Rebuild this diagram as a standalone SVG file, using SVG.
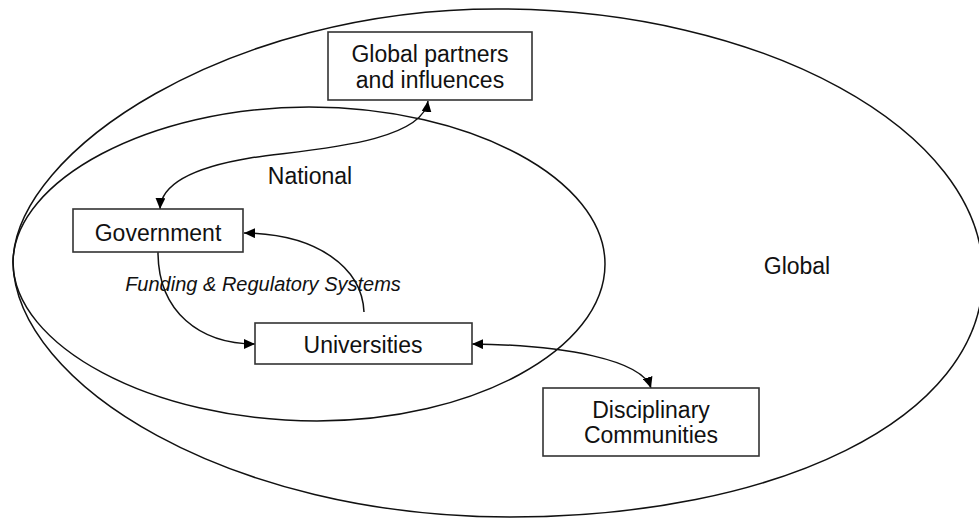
<svg xmlns="http://www.w3.org/2000/svg" width="979" height="520" viewBox="0 0 979 520">
  <defs>
    <marker id="arrow" markerUnits="userSpaceOnUse" markerWidth="12" markerHeight="10" refX="11" refY="5" orient="auto-start-reverse">
      <path d="M0,0 L11,5 L0,10 Z" fill="#000"/>
    </marker>
    <style>
      .ring { fill: none; stroke: #111; stroke-width: 1.5; }
      .box { fill: #fff; stroke: #333; stroke-width: 1.6; }
      .label { font-family: "Liberation Sans", Arial, sans-serif; font-size: 23px; fill: #111; text-anchor: middle; }
      .note { font-family: "Liberation Sans", Arial, sans-serif; font-size: 20px; font-style: italic; fill: #111; text-anchor: middle; }
      .link { fill: none; stroke: #111; stroke-width: 1.5; }
    </style>
  </defs>
  <rect width="979" height="520" fill="#fff"/>

  <!-- scope rings: egg-shaped outlines meeting at the left -->
  <g id="global-ring">
    <path class="ring" d="M13,262 C15,150 230,9 497,9 C763,9 983,130 983,275 C983,420 775,517 510,517 C230,517 15,385 13,262 Z"/>
    <text class="label" x="797" y="274">Global</text>
  </g>
  <g id="national-ring">
    <path class="ring" d="M13,262 C14,180 150,107 309,107 C472,107 605,180 605,264 C605,350 472,421 317,421 C150,421 13,345 13,262 Z"/>
    <text class="label" x="310" y="184">National</text>
  </g>

  <!-- connectors -->
  <g id="connectors">
    <path class="link" d="M428,101 C422,145 300,150 250,158 C190,168 161,185 160,209" marker-start="url(#arrow)" marker-end="url(#arrow)"/>
    <path class="link" d="M158,252 C158,312 200,344 255,344" marker-end="url(#arrow)"/>
    <path class="link" d="M364,312 C362,268 318,234 244,233" marker-end="url(#arrow)"/>
    <path class="link" d="M472,344 C565,345 642,360 651,388" marker-start="url(#arrow)" marker-end="url(#arrow)"/>
    <text class="note" x="263" y="291">Funding &amp; Regulatory Systems</text>
  </g>

  <!-- nodes -->
  <g id="global-partners">
    <rect class="box" x="328" y="32" width="204" height="68"/>
    <text class="label" x="430" y="62">Global partners</text>
    <text class="label" x="430" y="88">and influences</text>
  </g>
  <g id="government">
    <rect class="box" x="73" y="209" width="170" height="43"/>
    <text class="label" x="158" y="241">Government</text>
  </g>
  <g id="universities">
    <rect class="box" x="255" y="323" width="217" height="41"/>
    <text class="label" x="363" y="353">Universities</text>
  </g>
  <g id="disciplinary-communities">
    <rect class="box" x="543" y="388" width="216" height="68"/>
    <text class="label" x="651" y="418">Disciplinary</text>
    <text class="label" x="651" y="443">Communities</text>
  </g>
</svg>
